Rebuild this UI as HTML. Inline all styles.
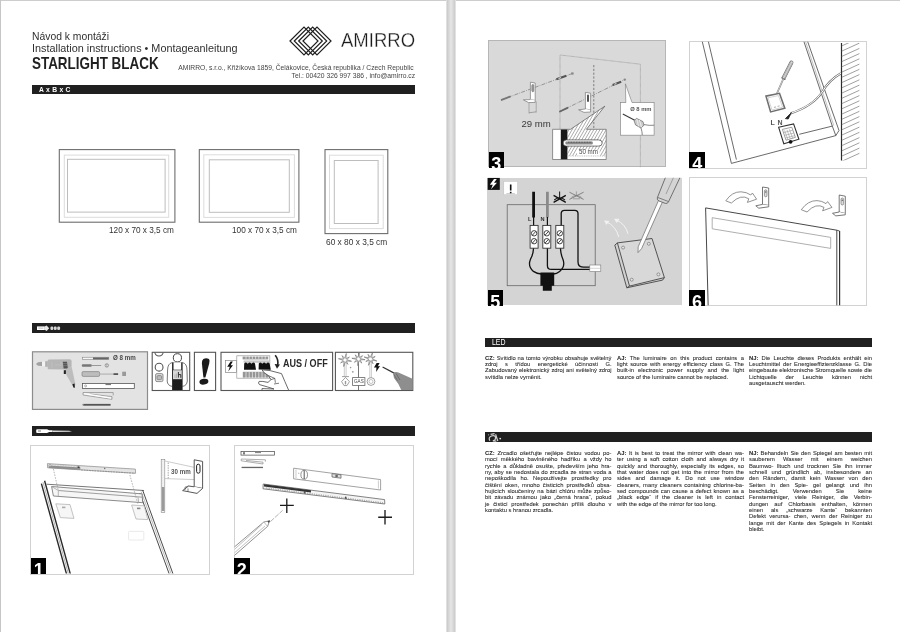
<!DOCTYPE html>
<html lang="cs">
<head>
<meta charset="utf-8">
<title>STARLIGHT BLACK - Installation instructions</title>
<style>
*{box-sizing:border-box;margin:0;padding:0}
html,body{width:900px;height:632px;overflow:hidden;background:#fff}
body{position:relative;filter:grayscale(1) blur(.35px);font-family:"Liberation Sans",sans-serif;color:#231f20}
.abs{position:absolute}
.t{position:absolute;white-space:nowrap;transform-origin:0 0;line-height:1}
.tr{position:absolute;white-space:nowrap;transform-origin:100% 0;line-height:1;text-align:right}
.bar{position:absolute;background:#231f20;height:9.5px}
.num{position:absolute;background:#000;color:#fff;font-weight:bold;font-size:18px;line-height:18px;width:15.5px;height:15.5px;padding-top:2.6px;text-align:center;overflow:hidden}
.pan{position:absolute;border:1px solid #d2d2d2;background:#fff;overflow:hidden}
.pang{position:absolute;background:#d7d9d9;overflow:hidden}
.col{position:absolute;font-size:5.8px;line-height:6.35px;color:#2b2b2b;width:126px;-webkit-text-stroke:.07px #2b2b2b}
.col div{text-align:justify;text-align-last:justify;white-space:nowrap;height:6.35px}
.col div.l{text-align-last:left}
.col b{font-weight:bold}
svg{position:absolute;left:0;top:0;overflow:visible}
</style>
</head>
<body>
<!-- page frame -->
<div class="abs" style="left:-4px;top:-4px;width:908px;height:5.3px;background:#cdcdcd"></div>
<div class="abs" style="left:-4px;top:-4px;width:5.1px;height:640px;background:#c6c6c6"></div>
<div class="abs" style="left:445.5px;top:0;width:10.5px;height:632px;background:linear-gradient(90deg,#f0f0f0 0,#cbcbcb 12%,#e6e6e6 50%,#cccccc 88%,#f2f2f2 100%)"></div>

<!-- ===== LEFT PAGE HEADER ===== -->
<div class="t" id="h1" style="transform:scaleX(1.016);left:32px;top:31.7px;font-size:10.2px;color:#303030">Návod k montáži</div>
<div class="t" id="h2" style="transform:scaleX(1.063);left:32px;top:44.2px;font-size:10.2px;color:#303030">Installation instructions • Montageanleitung</div>
<div class="t" id="h3" style="transform:scaleX(0.83);left:32px;top:55.4px;font-size:16.2px;font-weight:bold;color:#231f20">STARLIGHT BLACK</div>
<div class="tr" id="a1" style="transform:scaleX(0.978);right:486px;top:64.6px;font-size:6.9px;color:#444">AMIRRO, s.r.o., Křižíkova 1859, Čelákovice, Česká republika / Czech Republic</div>
<div class="tr" id="a2" style="transform:scaleX(0.98);right:485px;top:73.1px;font-size:6.9px;color:#444">Tel.: 00420 326 997 386 , info@amirro.cz</div>
<div class="t" id="logo" style="transform:scaleX(0.945);left:340.5px;top:30.5px;font-size:19.6px;color:#1c1c1c;-webkit-text-stroke:.28px #fff">AMIRRO</div>
<svg id="logosvg" width="900" height="632" viewBox="0 0 900 632" style="pointer-events:none">
<g fill="none" stroke="#231f20" stroke-width="1.2">
<path d="M290 41 L304 27 L318 41 L304 55Z"/>
<path d="M294.3 41 L308.3 27 L322.3 41 L308.3 55Z"/>
<path d="M298.7 41 L312.7 27 L326.7 41 L312.7 55Z"/>
<path d="M303 41 L317 27 L331 41 L317 55Z"/>
</g></svg>

<div class="bar" style="left:32px;top:84.8px;width:382.5px"></div>
<div class="t" id="abc" style="transform:scaleX(0.91);left:38.5px;top:86.2px;font-size:7.4px;color:#fff;font-weight:bold;letter-spacing:.3px">A x B x C</div>


<!-- ===== MIRROR SIZES ===== -->
<svg id="mirrors" width="900" height="632" viewBox="0 0 900 632" style="pointer-events:none">
<g fill="none">
<rect x="59.3" y="149.6" width="115.6" height="72.6" stroke="#6e6e6e" stroke-width="1.1"/>
<rect x="64.3" y="155.1" width="104.4" height="62.2" stroke="#dcdcdc" stroke-width="1"/>
<rect x="67.5" y="159.3" width="97.6" height="52.8" stroke="#bdbdbd" stroke-width="1"/>
<rect x="199.3" y="149.6" width="99.6" height="72.6" stroke="#6e6e6e" stroke-width="1.1"/>
<rect x="203.8" y="154.8" width="90.6" height="62.6" stroke="#dcdcdc" stroke-width="1"/>
<rect x="209.3" y="159.8" width="80" height="52.5" stroke="#bdbdbd" stroke-width="1"/>
<rect x="325" y="149.6" width="62.8" height="84" stroke="#6e6e6e" stroke-width="1.1"/>
<rect x="329.5" y="155.2" width="53.7" height="73.4" stroke="#dcdcdc" stroke-width="1"/>
<rect x="334.3" y="160.5" width="43.8" height="63" stroke="#bdbdbd" stroke-width="1"/>
</g></svg>
<div class="t" id="m1" style="transform:scaleX(.935);left:109.3px;top:225.6px;font-size:8.8px;color:#333">120 x 70 x 3,5 cm</div>
<div class="t" id="m2" style="transform:scaleX(.935);left:231.5px;top:225.6px;font-size:8.8px;color:#333">100 x 70 x 3,5 cm</div>
<div class="t" id="m3" style="transform:scaleX(.949);left:326px;top:237.8px;font-size:8.8px;color:#333">60 x 80 x 3,5 cm</div>

<div class="bar" style="left:32px;top:323.1px;width:382.5px;height:9.8px"></div>

<!-- ===== TOOLS / SAFETY ROW ===== -->
<svg id="tools" width="900" height="632" viewBox="0 0 900 632" style="pointer-events:none">
<!-- tools box -->
<rect x="32.5" y="351.8" width="115" height="57.6" fill="#e3e3e3" stroke="#8c8c8c" stroke-width="1.2"/>
<!-- drill -->
<g>
<path d="M35.9 363.9 L38 362.2 L42 361.8 L42 366 L38 365.7Z" fill="#a2a2a2"/>
<rect x="42" y="361.6" width="3.3" height="4.6" fill="#f2f2f2"/>
<rect x="45.2" y="361.2" width="2.6" height="5.6" fill="#b0b0b0"/>
<path d="M47.7 360.2 Q48 359.5 49 359.5 L69.5 359.3 Q71.6 359.4 71.6 361 L71.6 366.6 L66 369.4 L48.6 369.3 Q47.7 369.2 47.7 368.4Z" fill="#b6b6b6"/>
<path d="M52 361.6 V368 M60 363 H62 M55 365 H62" stroke="#c6c6c6" stroke-width=".6"/>
<path d="M62.8 361.8 L67 361.8 L67.8 368.6 L63.6 368.6Z" fill="#555"/>
<path d="M63 363.6 L67.4 363.6 M63.2 365.6 L67.6 365.6" stroke="#999" stroke-width=".5"/>
<path d="M65.4 369.4 L71.6 366.4 L75.5 384.8 L72.8 386 L66.4 375Z" fill="#bdbdbd"/>
<rect x="63.8" y="370.2" width="2.1" height="3.8" fill="#222"/>
<path d="M72.4 384.2 L74.6 383.6 L74.9 387.8 L73.4 387.6Z" fill="#1a1a1a"/>
</g>
<!-- drill bit -->
<rect x="82.4" y="357.2" width="26.4" height="2.4" fill="#f4f4f4" stroke="#777" stroke-width=".5"/>
<rect x="93" y="357.4" width="15.6" height="2" fill="#666"/>
<!-- small screwdriver -->
<rect x="81.8" y="364.2" width="10" height="2.6" rx="1" fill="#777"/><rect x="91.8" y="365" width="9.4" height="1" fill="#999"/>
<circle cx="106.8" cy="365.4" r="1.7" fill="#eee" stroke="#666" stroke-width=".6"/><path d="M106.8 364 V366.8" stroke="#666" stroke-width=".5"/>
<!-- larger screwdriver -->
<rect x="82" y="371.6" width="17.6" height="4.8" rx="1.2" fill="#bdbdbd" stroke="#777" stroke-width=".6"/>
<rect x="99.6" y="373.4" width="14" height="1.4" fill="#bbb"/><rect x="113.5" y="373.2" width="4.6" height="1.8" fill="#555"/>
<rect x="122.2" y="371.7" width="3.8" height="4.3" fill="#999"/>
<!-- level -->
<rect x="82.5" y="383.4" width="51.8" height="5" fill="#fff" stroke="#555" stroke-width=".8"/>
<circle cx="85.6" cy="385.9" r="1" fill="none" stroke="#666" stroke-width=".5"/><rect x="105.5" y="383.8" width="5.5" height="1.3" fill="#777"/>
<!-- folding ruler -->
<path d="M83 392.5 L113.2 392.5 L113.2 395.4 M83 392.5 L83 395 L112 399.3 L112 396.6 L90 394" fill="none" stroke="#8a8a8a" stroke-width=".7"/>
<path d="M84 393.6 L111 398.2" stroke="#fff" stroke-width="1.2"/>
<!-- pencil -->
<rect x="83.2" y="403.9" width="27.4" height="1.8" fill="#555"/><rect x="82" y="404.4" width="2" height=".8" fill="#888"/>

<!-- person box -->
<rect x="152.2" y="352.3" width="37.5" height="38.2" fill="#fff" stroke="#555" stroke-width="1.1"/>
<clipPath id="cpb"><rect x="152.7" y="352.8" width="36.5" height="37.2"/></clipPath>
<g clip-path="url(#cpb)" fill="none" stroke="#555" stroke-width=".8">
<circle cx="159" cy="351.8" r="4.2" stroke-width="1.1"/>
<circle cx="159.1" cy="367.2" r="3.9" stroke-width="1.1"/>
<rect x="155.6" y="373.6" width="7.4" height="8" rx="1.4" fill="#ddd" stroke="#777"/>
<rect x="157" y="375.6" width="4.6" height="4" rx="1" fill="#bbb" stroke="#666" stroke-width=".6"/>
<circle cx="177.4" cy="357.8" r="4.1" stroke="#444" stroke-width="1"/>
<path d="M172.2 362.6 Q167.6 363.5 167.6 370 L167.2 381 Q167.4 385.6 172.2 386.4" />
<path d="M182.5 362.6 Q187 363.5 187 370 L187.3 381 Q187 385.6 182.5 386.4" />
<rect x="172.1" y="362.3" width="10.5" height="28.5" fill="#1c1c1c" stroke="none"/>
<rect x="173.5" y="362.3" width="7.7" height="7.4" fill="#fff" stroke="none"/>
<rect x="173" y="370.2" width="8.8" height="9" fill="#d8d8d8" stroke="none"/>
<path d="M178.4 372 V377.6 M178.4 374.6 H180.8 V377.8" stroke="#333" stroke-width="1"/>
<path d="M175 374.5 V378 M176.5 373.6 V378" stroke="#aaa" stroke-width=".8"/>
</g>
<!-- exclamation box -->
<rect x="194.4" y="352.3" width="21.2" height="38.2" fill="#fff" stroke="#555" stroke-width="1.1"/>
<path d="M203.4 358.9 Q206 357.6 209 358.9 Q210 360.2 209.2 363.5 L205.4 377.6 L203.4 377.6 L201.9 363.5 Q201.6 360.2 203.4 358.9Z" fill="#1a1a1a"/>
<ellipse cx="203.9" cy="381.7" rx="4.5" ry="2.9" fill="#1a1a1a" transform="rotate(-8 203.9 381.7)"/>

<!-- AUS/OFF box -->
<rect x="221" y="352.3" width="111.6" height="38.2" fill="#fff" stroke="#555" stroke-width="1.1"/>
<clipPath id="cpa"><rect x="221.5" y="352.8" width="110.6" height="37.2"/></clipPath>
<g clip-path="url(#cpa)">
<rect x="236.8" y="355.8" width="33" height="22.4" fill="#fff" stroke="#999" stroke-width=".7"/>
<rect x="225.4" y="360.4" width="11" height="12" fill="#fff" stroke="#888" stroke-width=".7"/>
<path d="M230.6 361.6 L227.2 366.8 L229.8 366.8 L228.2 371.4 L233 365.2 L230.6 365.2 L232.8 361.6Z" fill="#111"/>
<g fill="#969696"><rect x="242.6" y="356.6" width="25.6" height="2.8"/><rect x="242.8" y="371.8" width="25.6" height="5.8"/></g>
<g stroke="#fff" stroke-width=".6"><path d="M246 356 V359 M249.2 356 V359 M252.4 356 V359 M255.6 356 V359 M258.8 356 V359 M262 356 V359 M265.2 356 V359 M246 372 V378 M249.2 372 V378 M252.4 372 V378 M255.6 372 V378 M258.8 372 V378 M262 372 V378 M265.2 372 V378"/></g>
<rect x="243.6" y="360.4" width="26.6" height="2.4" fill="#c8c8c8"/>
<path d="M244 369.8 L244.2 363.6 Q245.8 361.4 247.4 363.6 L248 363.6 Q249.6 361.4 251.2 363.6 L251.8 363.6 Q253.4 361.4 255 363.6 L256 369.8Z" fill="#111"/>
<path d="M258.6 369.4 L258.8 363.6 Q260.4 361.4 262 363.6 L262.6 363.6 Q264.2 361.4 265.8 363.6 L266.4 363.6 Q268 361.4 269.6 363.6 L270.8 369.8Z" fill="#111"/>
<path d="M275.2 355.2 Q279.2 360 277.4 366" fill="none" stroke="#222" stroke-width="1.6"/>
<path d="M274.6 364 L277 368.8 L280 364.6Z" fill="#222"/>
<!-- hand -->
<path d="M262 369.8 L270 370.6 L281.5 373.6 Q284.6 381 289 391 L262 391 L262 388.6 L274 389 Q268 387 259.5 384.6 Q257.6 383 259.2 381.4 Q262 381 268 382.4 L271 379.6 L268.4 375.6 L264 372.6Z" fill="#fff" stroke="#444" stroke-width=".8"/>
<path d="M268.4 375.6 L274.8 378.4 L275.4 382.8 M271 379.6 L274.8 378.4 M274 384 L279 383.2" fill="none" stroke="#444" stroke-width=".7"/>
</g>

<!-- hazards box -->
<rect x="335.4" y="352.3" width="77.4" height="38.2" fill="#fff" stroke="#555" stroke-width="1.1"/>
<clipPath id="cph"><rect x="335.9" y="352.8" width="76.4" height="37.2"/></clipPath>
<g clip-path="url(#cph)">
<path d="M344.3 362 V376.4 M346.1 362 V376.4 M369.8 362 V378 M371.4 362 V378" stroke="#aaa" stroke-width=".6"/>
<path d="M358.5 353 V390.5" stroke="#666" stroke-width=".9"/>
<g stroke="#777" stroke-width=".7" fill="#fff">
<path d="M346.3 353.5 L345.9 358.6 L349.4 357.1 L346.7 359.7 L351.5 361.3 L346.4 360.9 L347.9 364.4 L345.3 361.7 L343.7 366.5 L344.1 361.4 L340.6 362.9 L343.3 360.3 L338.5 358.7 L343.6 359.1 L342.1 355.6 L344.7 358.3Z"/>
<path d="M359.2 352.4 L359.3 357.5 L362.6 355.7 L360.1 358.5 L365.1 359.7 L360.0 359.8 L361.8 363.1 L359.0 360.6 L357.8 365.6 L357.7 360.5 L354.4 362.3 L356.9 359.5 L351.9 358.3 L357.0 358.2 L355.2 354.9 L358.0 357.4Z"/>
<path d="M372.5 352.7 L371.6 357.7 L375.2 356.5 L372.2 358.8 L376.8 361.0 L371.8 360.1 L373.0 363.7 L370.7 360.7 L368.5 365.3 L369.4 360.3 L365.8 361.5 L368.8 359.2 L364.2 357.0 L369.2 357.9 L368.0 354.3 L370.3 357.3Z"/>
</g>
<circle cx="350.6" cy="367.6" r=".8" fill="#999"/><circle cx="352.8" cy="371.8" r=".9" fill="#999"/>
<path d="M342 376.6 H349 M345.5 377.4 L349.4 381.6 L347 385.6 H344 L341.6 381.6Z" fill="#fff" stroke="#888" stroke-width=".8"/>
<rect x="344.8" y="381" width="1.4" height="3.4" fill="#999"/>
<rect x="352.6" y="377.6" width="12.3" height="7.8" fill="#fff" stroke="#666" stroke-width=".8"/>
<circle cx="371" cy="381.5" r="3.9" fill="#fff" stroke="#888" stroke-width=".8"/><circle cx="371" cy="381.5" r="2" fill="none" stroke="#aaa" stroke-width=".7"/>
<path d="M376.6 363 L374 367.6 L376.4 367.4 L376.2 372 L380 366 L377.8 366.2 L379.6 363Z" fill="#111"/>
<path d="M382.6 367 L394.6 373.4" stroke="#333" stroke-width="1.2"/>
<path d="M393 373.2 Q395.5 371.4 398.4 372.6 L413 379 V391 L401.6 391 Q399.6 384.6 394 378Z" fill="#8e8e8e"/>
<path d="M394 374.6 L397.6 380.6 M396 373.4 L400 380" stroke="#666" stroke-width=".8"/>
</g>
</svg>
<div class="t" id="d8" style="transform:scaleX(.817);left:113.3px;top:354.2px;font-size:7.6px;font-weight:bold;color:#484848">Ø 8 mm</div>
<div class="t" id="aus" style="transform:scaleX(.887);left:283.3px;top:358.8px;font-size:10.2px;font-weight:bold;color:#2a2a2a">AUS / OFF</div>
<div class="t" id="gas" style="transform:scaleX(.82);left:353.8px;top:378.6px;font-size:5.6px;color:#444">GAS</div>

<div class="bar" style="left:32px;top:426.1px;width:382.5px;height:9.8px"></div>


<!-- ===== PANELS 1 & 2 ===== -->
<div class="pan" style="left:30.3px;top:444.8px;width:180px;height:129.8px"></div>
<div class="pan" style="left:233.5px;top:444.8px;width:180.4px;height:129.8px"></div>
<svg id="p12" width="900" height="632" viewBox="0 0 900 632" style="pointer-events:none">
<clipPath id="cp1"><rect x="31.3" y="445.8" width="178" height="127.8"/></clipPath>
<g clip-path="url(#cp1)" fill="none">
<!-- mirror -->
<path d="M41.4 483.6 L66.8 575 M44.6 480.8 L70.6 575" stroke="#2a2a2a" stroke-width="1.4"/>
<path d="M43 482.2 L68.7 575" stroke="#aaa" stroke-width=".9"/>
<path d="M46.4 484.2 L143.9 490.5" stroke="#777" stroke-width="1"/>
<path d="M142.6 490 L173.4 575 M139.8 493 L169.6 575" stroke="#4a4a4a" stroke-width="1"/>
<path d="M141.2 491.6 L171.6 575" stroke="#aaa" stroke-width=".8"/>
<!-- rail -->
<path d="M51.6 486.5 L142.1 493.9 L142.7 502.7 L53.4 496Z" fill="#f6f6f6" stroke="#6e6e6e" stroke-width=".8"/>
<path d="M58.3 490.5 L142.5 497.2" stroke="#888" stroke-width=".8"/>
<path d="M58.3 490.5 V496.2 M51.6 486.5 L58.3 490.5 M138 497 L138.6 502.2" stroke="#999" stroke-width=".7"/>
<!-- pads -->
<path d="M55.8 503.8 L70 504.6 L74 518.4 L60.4 517.6Z" fill="#f6f6f6" stroke="#aaa" stroke-width=".7"/>
<path d="M131.6 505 L144.2 505.8 L147.8 519.6 L136 519Z" fill="#f6f6f6" stroke="#aaa" stroke-width=".7"/>
<rect x="62" y="506.6" width="3.4" height="1.6" fill="#aaa"/><rect x="137" y="507.6" width="3.4" height="1.6" fill="#888"/>
<rect x="128.6" y="531.4" width="15.2" height="8.6" rx=".8" stroke="#e4e4e4" stroke-width=".8"/>
<!-- dashed guides -->
<path d="M53.4 469 L58.3 490.5 M129.9 475 L137.8 503.9" stroke="#888" stroke-width=".6" stroke-dasharray="1.6 1.2"/>
<!-- level bar (top) -->
<path d="M47.4 463.6 L135.4 469.1 L135.6 473.3 L47.6 467.8Z" fill="#e4e4e4" stroke="#8a8a8a" stroke-width=".7"/>
<path d="M48.6 465.6 L80.4 467.6 L80.4 470 L48.8 468Z" fill="#8e8e8e"/>
<path d="M81 470 L135 473.2" stroke="#777" stroke-width="1.2" stroke-dasharray=".5 1.1"/>
<path d="M49 464.6 L79 466.5" stroke="#aaa" stroke-width=".8" stroke-dasharray=".5 1.1"/>
<circle cx="50" cy="465.4" r="1" fill="#f4f4f4" stroke="#666" stroke-width=".4"/>
<path d="M77.6 467 L79.6 467.4 M104.4 468.4 L105.2 468.6" stroke="#333" stroke-width="1.3"/>
<!-- vertical ruler -->
<rect x="161.2" y="459.6" width="3.6" height="52.8" fill="#f2f2f2" stroke="#888" stroke-width=".6"/>
<path d="M162 461 V488" stroke="#bbb" stroke-width=".5" stroke-dasharray=".6 1"/>
<rect x="161.8" y="487" width="2.6" height="24" fill="#9a9a9a"/>
<path d="M165 461 L194.4 467.4 M165 478.6 L194.4 479.6" stroke="#aaa" stroke-width=".6"/>
<path d="M168.2 462.6 V478.4" stroke="#666" stroke-width=".6" stroke-dasharray="1.4 1"/>
<!-- bracket -->
<path d="M194.2 459.8 L202.6 461.4 L202.6 488.4 L194.2 486.8Z" fill="#fff" stroke="#444" stroke-width=".9"/>
<path d="M202.6 488.4 L197 493.4 L182.6 490.6 L188.6 486 L194.2 486.8" fill="#fff" stroke="#444" stroke-width=".9"/>
<path d="M185 490 L185 487.2 L188.6 486 M188 491.6 L188 488.4" stroke="#555" stroke-width=".7"/>
<rect x="196.6" y="464.2" width="3.4" height="9" rx="1.7" fill="#fff" stroke="#222" stroke-width="1"/>
</g>
<clipPath id="cp2"><rect x="234.5" y="445.8" width="178.4" height="127.8"/></clipPath>
<g clip-path="url(#cp2)" fill="none">
<!-- small icons -->
<rect x="241" y="451.5" width="33.4" height="3.6" fill="#fff" stroke="#444" stroke-width=".7"/>
<rect x="243" y="452.2" width="2" height="2.2" fill="#777"/><rect x="255" y="452" width="6" height="1.1" fill="#888"/>
<path d="M241.2 459 L265.4 459.8 L265.4 461.6 M241.2 459 L241.2 460.8 L263 464 L263 462.2 L246 460.4" stroke="#777" stroke-width=".6"/>
<rect x="241.6" y="466.8" width="21.4" height="1.3" fill="#666"/>
<!-- spirit level -->
<path d="M293.6 468.2 L380.6 479.6 L380.6 490 L293.6 478.8Z" fill="#fff" stroke="#8c8c8c" stroke-width=".8"/>
<path d="M296 469.6 L296 478.2 M378.4 480.4 L378.4 488.6" stroke="#aaa" stroke-width=".6"/>
<ellipse cx="304.2" cy="474.8" rx="3.3" ry="4.4" fill="#fff" stroke="#666" stroke-width=".7"/><path d="M304.2 470.6 V479" stroke="#444" stroke-width=".9"/><path d="M298 473.2 L299.4 473.4" stroke="#888" stroke-width=".6"/>
<path d="M332 473.6 L341 474.8 L341 478.2 L332 477Z" fill="#ddd" stroke="#555" stroke-width=".7"/><rect x="335.4" y="474.8" width="2.4" height="2.2" fill="#666"/>
<!-- ruler -->
<path d="M263.2 484 L384.6 499.6 L384.8 504 L263 488.8Z" fill="#f4f4f4" stroke="#666" stroke-width=".8"/>
<path d="M264 484.2 L311 490.2 L311 492.4 L264 486.4Z" fill="#333"/>
<path d="M266 488 L383 502.8" stroke="#777" stroke-width="1.3" stroke-dasharray=".5 1.3"/>
<path d="M304.6 491.4 L305 493.6 M345.6 496.6 L346 499" stroke="#333" stroke-width="1.2"/>
<!-- crosses -->
<path d="M286.8 498.6 V513 M280 505.4 H293.8" stroke="#1c1c1c" stroke-width="1.35"/>
<path d="M385 510 V524.4 M378.2 517.2 H392" stroke="#1c1c1c" stroke-width="1.35"/>
<!-- pencil -->
<path d="M270 520.4 L250 547" stroke="#888" stroke-width=".001"/>
<path d="M270.4 521.6 L282.6 510.4" stroke="#a0a0a0" stroke-width=".8" stroke-dasharray="5 1.2"/>
<path d="M269.6 520.8 L263.8 522 L232 549 L232 557.6 L267.6 526.4Z" fill="#fff" stroke="#777" stroke-width=".8"/>
<path d="M263.8 522 L267.6 526.4 M262 524.6 L232 551.6 M265 526 L232 555" stroke="#999" stroke-width=".6"/>
<path d="M269.6 520.8 L267.8 521.4 L268.6 522.6Z" fill="#333" stroke="#333" stroke-width=".5"/>
</g>
</svg>
<div class="num" id="n1" style="left:30.9px;top:558.3px">1</div>
<div class="num" id="n2" style="left:234px;top:558.4px">2</div>
<div class="t" id="mm30" style="transform:scaleX(.84);left:171px;top:468.4px;font-size:7.4px;font-weight:bold;color:#555">30 mm</div>

<!-- ===== RIGHT PAGE ===== -->

<!-- ===== PANELS 3 & 4 ===== -->
<div class="pang" style="left:488.2px;top:40.3px;width:178px;height:127px;border:1px solid #b4b7b7"></div>
<div class="pan" style="left:689px;top:40.8px;width:178px;height:127.9px"></div>
<svg id="p34" width="900" height="632" viewBox="0 0 900 632" style="pointer-events:none">
<clipPath id="cp3"><rect x="488.2" y="40.3" width="178" height="127"/></clipPath>
<g clip-path="url(#cp3)" fill="none">
<!-- dotted mirror outline -->
<path d="M560 129 V55 L640.4 64.2 V168" stroke="#8e9191" stroke-width=".7" stroke-dasharray=".7 .45"/>
<path d="M593.8 65 V130" stroke="#666" stroke-width=".8" stroke-dasharray="2.2 1.6"/>
<!-- dash-dot guides -->
<path d="M501 100 L572.6 73.4" stroke="#666" stroke-width=".6" stroke-dasharray="4 1.2 .8 1.2"/>
<path d="M559.2 111.9 L624.7 79.6" stroke="#666" stroke-width=".6" stroke-dasharray="4 1.2 .8 1.2"/>
<!-- screws -->
<path d="M501 100.2 L510.6 96.4" stroke="#777" stroke-width="1.8"/>
<path d="M559.4 111.8 L568 107.6" stroke="#666" stroke-width="1.8"/>
<!-- plugs -->
<path d="M556.4 79.3 L566.4 75.7" stroke="#555" stroke-width="2.2"/><path d="M558.6 78.5 L561 77.6" stroke="#eee" stroke-width="1"/>
<path d="M612.6 85 L621.2 81.7" stroke="#555" stroke-width="2"/><path d="M614.4 84.3 L616.4 83.5" stroke="#eee" stroke-width="1"/>
<rect x="571.2" y="72.4" width="2.4" height="2.2" fill="#888"/><circle cx="624.8" cy="79.6" r="1.2" fill="#888"/>
<!-- bracket 1 -->
<path d="M530.4 82.2 L535.2 83 L535.2 100.4 L530.4 99.6Z" fill="#fff" stroke="#777" stroke-width=".7"/>
<path d="M530.4 99.6 L523.4 99.8 L528.6 102.6 L535.2 102.4 L535.2 100.4" fill="#fff" stroke="#777" stroke-width=".7"/>
<rect x="531.8" y="84.4" width="2" height="7.4" rx="1" fill="#999" stroke="#666" stroke-width=".5"/>
<path d="M529 102.6 V113.4 M536.2 101.4 V112.6" stroke="#888" stroke-width=".6"/><path d="M529 112.8 L536.2 111.8" stroke="#777" stroke-width=".6"/>
<!-- bracket 2 -->
<path d="M585.4 92.4 L590.6 93.2 L590.6 110 L585.4 109Z" fill="#fff" stroke="#777" stroke-width=".7"/>
<path d="M585.4 109 L578.6 109.8 L584 112.4 L590.6 112 L590.6 110" fill="#fff" stroke="#777" stroke-width=".7"/>
<rect x="587" y="94.6" width="2" height="7.4" rx="1" fill="#555"/>
<!-- detail box -->
<path d="M570.6 129.3 L604.8 106.2 L586.4 129.3Z" fill="#fff" stroke="none"/>
<rect x="552.6" y="129.3" width="53.6" height="30.2" fill="#fff"/>
<clipPath id="cpd"><path d="M567.4 129.3 H570.6 L604.8 106.2 L586.4 129.3 H606.2 V155.8 H567.4Z"/></clipPath>
<g clip-path="url(#cpd)"><path d="M567 160 l30 -52 M570.1 160 l30 -52 M573.2 160 l30 -52 M576.3 160 l30 -52 M579.4 160 l30 -52 M582.5 160 l30 -52 M585.6 160 l30 -52 M588.7 160 l30 -52 M591.8 160 l30 -52 M594.9 160 l30 -52 M598 160 l30 -52 M601.1 160 l30 -52 M604.2 160 l30 -52 M563.9 160 l30 -52 M560.8 160 l30 -52 M557.7 160 l30 -52 M554.6 160 l30 -52 M551.5 160 l30 -52 M548.4 160 l30 -52 M545.3 160 l30 -52" stroke="#777" stroke-width=".62"/></g>
<rect x="560.8" y="129.3" width="6.6" height="30.2" fill="#1a1a1a"/>
<path d="M570.6 129.3 L604.8 106.2 L586.4 129.3" stroke="#555" stroke-width=".7"/>
<path d="M570.6 129.3 H552.6 V159.5 H606.2 V129.3 H586.4" stroke="#666" stroke-width=".7"/>
<rect x="577" y="149.8" width="22.6" height="6" fill="#fff"/>
<path d="M563.2 143 Q563.2 139.9 566.4 139.9 H598.6 Q602.2 139.9 602.2 143 Q602.2 146.1 598.6 146.1 H566.4 Q563.2 146.1 563.2 143Z" fill="#fff" stroke="#555" stroke-width=".8"/>
<rect x="565.4" y="141.6" width="27.4" height="2.8" rx="1" fill="#8a8a8a"/><path d="M568 142.2 H592" stroke="#4a4a4a" stroke-width="1" stroke-dasharray=".8 .8"/>
<path d="M567.8 156 H606" stroke="#999" stroke-width=".6" stroke-dasharray="1 .8"/>
<!-- callout -->
<path d="M625.4 83.8 L625.8 103 L632.2 103Z" fill="#fff" stroke="#777" stroke-width=".6"/>
<rect x="620.4" y="102.5" width="33.7" height="32.7" fill="#fff" stroke="#888" stroke-width=".7"/><path d="M626.2 102.5 H631.8" stroke="#fff" stroke-width="1"/>
<clipPath id="cpc"><rect x="620.9" y="103.2" width="33.2" height="31.8"/></clipPath>
<g clip-path="url(#cpc)">
<path d="M622.8 113.9 L635.2 120.4" stroke="#3a3a3a" stroke-width="1.1"/>
<path d="M634 120.6 L636.6 118.4 L643 121.6 L644 125.2 L641 128 L635.6 125Z" fill="#c9c9c9" stroke="#666" stroke-width=".7"/>
<path d="M636.8 119 L638.6 126.4 M639.4 120 L641.6 127.4" stroke="#f0f0f0" stroke-width=".9"/>
<path d="M644 124.6 Q649 125.8 655 125.2 M641 128 Q642.2 131.4 642.4 136" stroke="#555" stroke-width=".7"/>
</g>
</g>
<clipPath id="cp4"><rect x="690" y="41.8" width="176" height="125"/></clipPath>
<g clip-path="url(#cp4)" fill="none">
<!-- mirror -->
<path d="M701.9 40 L731.4 163.4 L835.8 135.6 L839 130.5 M708 40 L736.4 159.6" stroke="#444" stroke-width=".8"/>
<path d="M803.4 40 L832.3 126.1 L799.2 134.3 M807.1 40 L839 130.5 M832.3 126.1 L835.8 135.6" stroke="#444" stroke-width=".8"/>
<path d="M805 40 L833.8 125.6" stroke="#999" stroke-width=".6"/>
<!-- wall -->
<path d="M841.5 43.1 V160.5" stroke="#2a2a2a" stroke-width="1.2"/>
<clipPath id="cpw"><rect x="841" y="43.1" width="26" height="117.4"/></clipPath><path clip-path="url(#cpw)" d="M841.8 45.9 l17.6 -8 M841.8 51.1 l17.6 -8 M841.8 56.4 l17.6 -8 M841.8 61.6 l17.6 -8 M841.8 66.8 l17.6 -8 M841.8 72.1 l17.6 -8 M841.8 77.3 l17.6 -8 M841.8 82.6 l17.6 -8 M841.8 87.8 l17.6 -8 M841.8 93.1 l17.6 -8 M841.8 98.3 l17.6 -8 M841.8 103.6 l17.6 -8 M841.8 108.8 l17.6 -8 M841.8 114.1 l17.6 -8 M841.8 119.3 l17.6 -8 M841.8 124.6 l17.6 -8 M841.8 129.8 l17.6 -8 M841.8 135.1 l17.6 -8 M841.8 140.3 l17.6 -8 M841.8 145.6 l17.6 -8 M841.8 150.8 l17.6 -8 M841.8 156.1 l17.6 -8 M841.8 161.3 l17.6 -8" stroke="#888" stroke-width=".8"/>
<!-- cable -->
<path d="M841 73.2 Q829 80 822.2 92 Q813 106 790.6 113.4" stroke="#777" stroke-width="2.2"/>
<path d="M841 73.2 Q829 80 822.2 92 Q813 106 790.6 113.4" stroke="#fff" stroke-width="1"/>
<path d="M791.4 112.6 L785.4 118.6 L788.2 119 L789.6 116.2Z" fill="#222" stroke="#222" stroke-width=".8"/>
<!-- screwdriver -->
<path d="M791.4 62.6 L783.6 78" stroke="#6a6a6a" stroke-width="4" stroke-linecap="round"/>
<path d="M791.4 62.6 L783.6 78" stroke="#d6d6d6" stroke-width="2.8" stroke-linecap="round"/>
<path d="M790.6 62.2 L783.2 77 M792.2 63 L784.6 78" stroke="#8a8a8a" stroke-width=".5"/>
<path d="M781.6 77.6 L785.4 79.4" stroke="#555" stroke-width=".9"/>
<path d="M783.4 78.6 L776.6 94.2" stroke="#777" stroke-width="1.6"/><path d="M783.4 78.6 L776.6 94.2" stroke="#fff" stroke-width=".6"/>
<!-- plate -->
<path d="M766 96.1 L779.5 93.3 L784.8 108.2 L770.6 111.9Z" fill="#fff" stroke="#707070" stroke-width="1.6"/>
<path d="M768 97.8 L778.4 95.6 L782.6 107.2 L772 110Z" stroke="#bbb" stroke-width=".6"/><path d="M774 107.4 L776 106.9 M777.6 106.4 L779.6 105.9" stroke="#888" stroke-width=".7"/>
<!-- terminal -->
<path d="M778.6 127.2 L793.6 123.9 L798.9 139.2 L783.8 143.7Z" fill="#fff" stroke="#333" stroke-width="1.1"/>
<path d="M782.4 129.4 L791.8 127.2 L795.4 137.4 L786 140.2Z" stroke="#777" stroke-width=".7"/>
<path d="M784.6 130.4 L787.8 139.4 M787 129.8 L790.2 138.8 M789.4 129.2 L792.6 138.2 M783.6 132.6 L792.8 130.2 M784.6 135.4 L793.8 133 M785.6 138 L794.8 135.6" stroke="#999" stroke-width=".6"/>
<circle cx="790.6" cy="141.8" r="1.9" fill="#111"/>
</g>
</svg>
<div class="num" id="n3" style="left:488.5px;top:152px">3</div>
<div class="num" id="n4" style="left:689.4px;top:152.4px">4</div>
<div class="t" id="mm29" style="left:521.4px;top:119.4px;font-size:9.6px;color:#383838">29 mm</div>
<div class="t" id="mm50" style="left:579px;top:149.4px;font-size:6.6px;color:#444;transform:scaleX(.94)">50 mm</div>
<div class="t" id="d8b" style="left:630.2px;top:107.4px;font-size:5.8px;font-weight:bold;color:#555">Ø 8 mm</div>
<div class="t" id="ln" style="left:770.4px;top:119px;font-size:7px;font-weight:bold;color:#555;letter-spacing:.5px">L N</div>


<!-- ===== PANELS 5 & 6 ===== -->
<div class="pang" style="left:487.4px;top:177.7px;width:194.2px;height:127.8px;background:#d2d5d5"></div>
<div class="pan" style="left:689px;top:177.2px;width:178px;height:128.8px"></div>
<svg id="p56" width="900" height="632" viewBox="0 0 900 632" style="pointer-events:none">
<clipPath id="cp5"><rect x="487.4" y="177.7" width="194.2" height="127.8"/></clipPath>
<g clip-path="url(#cp5)" fill="none">
<rect x="487.4" y="177.7" width="12.4" height="12.2" fill="#111"/>
<path d="M494 179 L489.8 184.8 L492.8 184.8 L491 189.2 L497 182.8 L494 182.8 L496.8 179Z" fill="#fff"/>
<rect x="503.8" y="181.3" width="13.8" height="13.5" fill="#fff" stroke="#bbb" stroke-width=".5"/>
<path d="M510.7 184.6 V190.6" stroke="#111" stroke-width="1.6"/><rect x="509.9" y="191.8" width="1.6" height="1.6" fill="#111"/>
<path d="M506.4 193.6 H515" stroke="#999" stroke-width=".5"/>
<rect x="507.2" y="204.7" width="88" height="81" stroke="#666" stroke-width=".8"/>
<!-- wires top -->
<path d="M533.6 191.8 V217.4" stroke="#111" stroke-width="2.8"/><path d="M533.6 217 V226" stroke="#111" stroke-width="1.2"/>
<path d="M547.4 191.8 V217.4" stroke="#8a8a8a" stroke-width="2.8"/><path d="M547.4 217 V226" stroke="#111" stroke-width="1.2"/>
<!-- loop wire -->
<path d="M561.2 226 V213.6 Q561.2 210.3 564.4 210.3 H574.8 Q578 210.3 578 213.6 V262 Q578 267.2 584 267.2 H591" stroke="#111" stroke-width="1.3"/>
<!-- bottom wires -->
<path d="M533.6 248 Q533.4 254 530.4 259.4 Q527.6 266.4 533.4 271.4 Q537 273.8 541.4 274" stroke="#111" stroke-width="1.3"/>
<path d="M547.4 248 V265.4 Q547.4 269.4 551.4 269.4 H591" stroke="#111" stroke-width="1.3"/>
<path d="M560.4 248 Q560.6 254 563 259.4 Q565.6 266.4 559.6 271.4 Q556.6 273.8 553.4 274" stroke="#111" stroke-width="1.3"/>
<rect x="530.1" y="225.4" width="8" height="22.8" fill="#fff" stroke="#333" stroke-width=".9"/>
<circle cx="534.1" cy="233.3" r="2.7" fill="#fff" stroke="#333" stroke-width=".9"/><path d="M532.3000000000001 235.3 L535.9 231.3" stroke="#333" stroke-width=".9"/>
<circle cx="534.1" cy="241.2" r="2.7" fill="#fff" stroke="#333" stroke-width=".9"/><path d="M532.3000000000001 243.2 L535.9 239.2" stroke="#333" stroke-width=".9"/><rect x="542.8" y="225.4" width="8" height="22.8" fill="#fff" stroke="#333" stroke-width=".9"/>
<circle cx="546.8" cy="233.3" r="2.7" fill="#fff" stroke="#333" stroke-width=".9"/><path d="M545.0 235.3 L548.5999999999999 231.3" stroke="#333" stroke-width=".9"/>
<circle cx="546.8" cy="241.2" r="2.7" fill="#fff" stroke="#333" stroke-width=".9"/><path d="M545.0 243.2 L548.5999999999999 239.2" stroke="#333" stroke-width=".9"/><rect x="555.8" y="225.4" width="8" height="22.8" fill="#fff" stroke="#333" stroke-width=".9"/>
<circle cx="559.8" cy="233.3" r="2.7" fill="#fff" stroke="#333" stroke-width=".9"/><path d="M558.0 235.3 L561.5999999999999 231.3" stroke="#333" stroke-width=".9"/>
<circle cx="559.8" cy="241.2" r="2.7" fill="#fff" stroke="#333" stroke-width=".9"/><path d="M558.0 243.2 L561.5999999999999 239.2" stroke="#333" stroke-width=".9"/>
<path d="M540.4 272.4 H554.2 V285.8 H551.8 V290.8 H542.8 V285.8 H540.4Z" fill="#111"/>
<rect x="589.8" y="265" width="11" height="6.6" fill="#fff" stroke="#777" stroke-width=".6"/><path d="M589.8 268.3 H600.8" stroke="#aaa" stroke-width=".5"/>
<!-- crossed icons -->
<path d="M559.6 191.6 V198.4 M554.2 200 Q559.6 195.4 565 200" stroke="#222" stroke-width="1.1"/>
<path d="M553.6 195.4 L565.8 202.4 M565.8 195.4 L553.6 202.4" stroke="#111" stroke-width="1.3"/>
<path d="M576.4 191.4 V196 M571.4 197.4 Q576.4 193.4 581.6 197.4 M573 198.8 H580" stroke="#999" stroke-width=".9"/>
<path d="M569.4 192.2 L583.6 199.4 M583.6 192.2 L569.4 199.4" stroke="#777" stroke-width=".9"/>
<!-- arrows -->
<path d="M618.8 237 Q616 226 606 221.6" stroke="#f2f2f2" stroke-width="1"/><path d="M604.6 220.8 L609 221.2 L606.4 224.4Z" fill="#f2f2f2" stroke="#f2f2f2" stroke-width=".5"/>
<path d="M628 233.8 Q625.6 224 616 219.8" stroke="#f2f2f2" stroke-width="1"/><path d="M614.6 219 L619.2 219.2 L616.6 222.6Z" fill="#f2f2f2" stroke="#f2f2f2" stroke-width=".5"/>
<!-- cover plate -->
<path d="M617.4 242.9 L614.8 245.1 L626.8 287.8 L662.6 280.1 L664.4 277.6" fill="#cfd2d2" stroke="#444" stroke-width=".9"/>
<path d="M617.4 242.9 L652 238.5 L664.4 277.6 L629.5 286.1Z" fill="#d6d9d9" stroke="#444" stroke-width=".9"/>
<path d="M629.5 286.1 L626.8 287.8" stroke="#444" stroke-width=".9"/>
<g fill="#e4e4e4" stroke="#666" stroke-width=".6"><circle cx="623.1" cy="247.6" r="1.5"/><circle cx="648.8" cy="243.8" r="1.5"/><circle cx="658.4" cy="274.4" r="1.5"/><circle cx="631.7" cy="279.7" r="1.5"/></g>
<!-- screwdriver -->
<path d="M662.6 201.6 L641.6 248.6 L638 252.6 L638.2 246.8 L658.8 199.8Z" fill="#fff" stroke="#666" stroke-width=".7"/>
<path d="M667.6 172 L657.4 197.6 Q656.6 200 659 201 L665.4 203.4 Q667.6 204 668.6 201.6 L682.6 172Z" fill="#d2d5d5" stroke="#555" stroke-width=".8"/>
<path d="M657.6 197.4 L668.6 201.6" stroke="#555" stroke-width=".7"/>
<path d="M676 172 L666 194" stroke="#777" stroke-width=".6"/>
</g>
<clipPath id="cp6"><rect x="690" y="178.6" width="176" height="126.6"/></clipPath>
<g clip-path="url(#cp6)" fill="none">
<path d="M708.2 307 L705.6 207.9 L836.8 230.2 V307" stroke="#333" stroke-width=".9"/>
<path d="M839.6 231 V307" stroke="#333" stroke-width="1.2"/><path d="M836.8 230.2 L839.6 231" stroke="#333" stroke-width=".8"/>
<path d="M712.2 217.7 L830.7 237.4 V248.4 L712.2 228.8Z" stroke="#9a9a9a" stroke-width=".8"/>
<!-- arrows -->
<path d="M725.8 200.8 Q732 191.6 741 191.8 Q746.6 192 750.8 195 L752.4 193 L756.6 199.2 L747.4 202.4 L748.8 198.8 Q741 193.6 731.4 203Z" fill="#fff" stroke="#777" stroke-width=".8"/>
<path d="M801.3 209.7 Q808 200.4 817 200.6 Q822 200.8 826 203.6 L827.6 201.6 L832 207.4 L822.6 210.8 L824 207.4 Q816 202.4 807 212Z" fill="#fff" stroke="#777" stroke-width=".8"/>
<!-- brackets -->
<path d="M762.5 187 L768.7 188 L768.7 205.4 L762.5 204.4Z" fill="#fff" stroke="#555" stroke-width=".8"/>
<path d="M762.5 204.4 L755.8 205.8 L758.8 208.2 L768.7 206.8 L768.7 205.4" fill="#fff" stroke="#555" stroke-width=".8"/>
<rect x="764.4" y="189.8" width="2.6" height="7" rx="1.3" fill="#ddd" stroke="#666" stroke-width=".6"/><circle cx="765.7" cy="192" r=".8" fill="#666"/>
<path d="M839.2 195 L845.3 196.2 L845.3 213.5 L839.2 212Z" fill="#fff" stroke="#555" stroke-width=".8"/>
<path d="M839.2 212 L832.5 213.3 L835.8 215.9 L845.3 214.8 L845.3 213.5" fill="#fff" stroke="#555" stroke-width=".8"/>
<rect x="841" y="198" width="2.6" height="7" rx="1.3" fill="#ddd" stroke="#666" stroke-width=".6"/><circle cx="842.3" cy="200.2" r=".8" fill="#666"/>
</g>
</svg>
<div class="num" id="n5" style="left:487.5px;top:290px">5</div>
<div class="num" id="n6" style="left:689.3px;top:290px">6</div>
<div class="t" id="lL" style="left:528px;top:217.4px;font-size:5.6px;font-weight:bold;color:#333">L</div>
<div class="t" id="lN" style="left:540.6px;top:217.4px;font-size:5.6px;font-weight:bold;color:#333">N</div>

<div class="bar" style="left:485px;top:337.5px;width:387px"></div>
<div class="t" id="led" style="transform:scaleX(0.8);left:491.6px;top:338px;font-size:8.7px;color:#fff">LED</div>
<div class="bar" style="left:485px;top:432.2px;width:387px;height:10px"></div>

<!-- ===== TEXT SECTIONS ===== -->
<div class="col" style="left:485px;top:354.5px;width:126.5px"><div><b>CZ:</b> Svítidlo na tomto výrobku obsahuje světelný</div><div>zdroj s třídou energetické účinnosti G.</div><div>Zabudovaný elektronický zdroj ani světelný zdroj</div><div class=l>svítidla nelze vyměnit.</div></div>
<div class="col" style="left:617px;top:354.5px;width:127px"><div><b>AJ:</b> The luminaire on this product contains a</div><div>light source with energy efficiency class G. The</div><div>built-in electronic power supply and the light</div><div class=l>source of the luminaire cannot be replaced.</div></div>
<div class="col" style="left:749px;top:354.5px;width:123px"><div><b>NJ:</b> Die Leuchte dieses Produkts enthält ein</div><div>Leuchtmittel der Energieeffizienzklasse G. Die</div><div>eingebaute elektronische Stromquelle sowie die</div><div>Lichtquelle der Leuchte können nicht</div><div class=l>ausgetauscht werden.</div></div>
<div class="col" style="left:485px;top:449.9px;width:126.5px"><div><b>CZ:</b> Zrcadlo ošetřujte nejlépe čistou vodou po-</div><div>mocí měkkého bavlněného hadříku a vždy ho</div><div>rychle a důkladně osušte, především jeho hra-</div><div>ny, aby se nedostala do zrcadla ze stran voda a</div><div>nepoškodila ho. Nepoužívejte prostředky pro</div><div>čištění oken, mnoho čisticích prostředků obsa-</div><div>hujících sloučeniny na bázi chlóru může způso-</div><div>bit závadu známou jako „černá hrana“, pokud</div><div>je čisticí prostředek ponechán příliš dlouho v</div><div class=l>kontaktu s hranou zrcadla.</div></div>
<div class="col" style="left:617px;top:449.9px;width:127px"><div><b>AJ:</b> It is best to treat the mirror with clean wa-</div><div>ter using a soft cotton cloth and always dry it</div><div>quickly and thoroughly, especially its edges, so</div><div>that water does not get into the mirror from the</div><div>sides and damage it. Do not use window</div><div>cleaners, many cleaners containing chlorine-ba-</div><div>sed compounds can cause a defect known as a</div><div>„black edge“ if the cleaner is left in contact</div><div class=l>with the edge of the mirror for too long.</div></div>
<div class="col" style="left:749px;top:449.9px;width:123px"><div><b>NJ:</b> Behandeln Sie den Spiegel am besten mit</div><div>sauberem Wasser mit einem weichen</div><div>Baumwo- lltuch und trocknen Sie ihn immer</div><div>schnell und gründlich ab, insbesondere an</div><div>den Rändern, damit kein Wasser von den</div><div>Seiten in den Spie- gel gelangt und ihn</div><div>beschädigt. Verwenden Sie keine</div><div>Fensterreiniger, viele Reiniger, die Verbin-</div><div>dungen auf Chlorbasis enthalten, können</div><div>einen als „schwarze Kante“ bekannten</div><div>Defekt verursa- chen, wenn der Reiniger zu</div><div>lange mit der Kante des Spiegels in Kontakt</div><div class=l>bleibt.</div></div>
<svg id="clean" width="900" height="632" viewBox="0 0 900 632" style="pointer-events:none">
<path d="M489.8 440.8 Q488 437.4 491.4 436 Q494.8 434.8 495.6 437.6 Q495.8 440.2 492.8 440.8 M490.6 434.4 L494.6 433.6 M495.6 434.2 L497.8 441 M492.8 440.8 L496.4 441.2" fill="none" stroke="#cfcfcf" stroke-width="1.2"/>
<circle cx="500.2" cy="438.6" r=".9" fill="#ddd"/><circle cx="488.6" cy="434.8" r=".6" fill="#aaa"/>
</svg>
<svg id="baricons" width="900" height="632" viewBox="0 0 900 632" style="pointer-events:none">
<!-- bar icons -->
<g stroke="none">
<rect x="37" y="326.4" width="7.8" height="3.6" fill="#fff"/><rect x="38.4" y="327.6" width="5" height="1" fill="#bbb"/>
<path d="M44.8 326.6 L46.6 325.6 L49.2 328.2 L46.6 330.9 L44.8 329.8Z" fill="#e8e8e8"/>
<rect x="50.4" y="326.5" width="2.9" height="3.4" rx="1.2" fill="#d6d6d6"/><rect x="53.8" y="326.5" width="2.9" height="3.4" rx="1.2" fill="#d6d6d6"/><rect x="57.2" y="326.5" width="2.9" height="3.4" rx="1.2" fill="#d6d6d6"/>
<path d="M36.2 430 Q36.2 429.2 37.2 429.2 H47 L49.2 430.2 H52.4 L52.4 432 H49.2 L47 433 H37.2 Q36.2 433 36.2 432.2Z" fill="#fff"/>
<path d="M52.4 430.6 L69 430.8 L72 431.2 L69 431.7 L52.4 431.9Z" fill="#e4e4e4"/>
<rect x="38" y="430.2" width="3" height="1.6" fill="#aaa"/>
</g>
</svg>
</body>
</html>
